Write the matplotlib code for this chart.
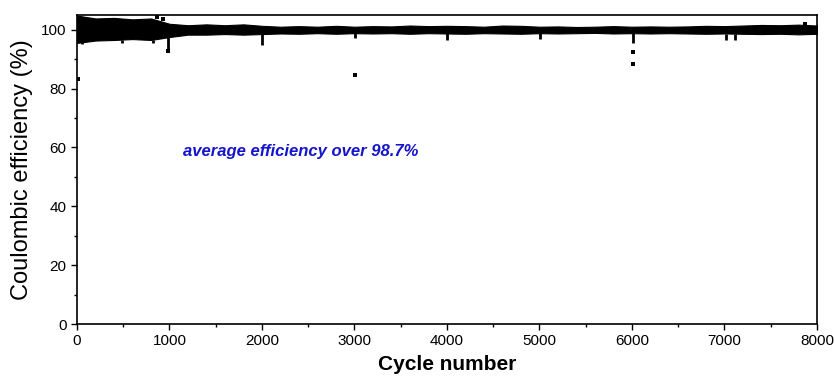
import matplotlib

matplotlib.use("Agg")
import matplotlib.pyplot as plt
import numpy as np

plt.rcParams["font.family"] = ["Liberation Sans", "DejaVu Sans"]

# band envelope of the dense scatter, read every 200 cycles
bin_cycles = list(range(0, 8001, 200))
band_hi = [104.8, 103.8, 104.0, 103.5, 103.8, 102.0, 101.5, 101.8, 101.5, 101.8,
           101.3, 101.0, 101.2, 101.0, 101.3, 101.0, 101.2, 101.1, 101.4, 101.2,
           101.3, 101.2, 101.0, 101.4, 101.3, 101.0, 101.1, 100.9, 101.0, 101.2,
           101.0, 101.1, 101.0, 101.1, 101.3, 101.2, 101.4, 101.6, 101.5, 101.7, 101.4]
band_lo = [95.5, 96.3, 96.5, 96.8, 96.5, 97.5, 98.3, 98.3, 98.5, 98.3,
           98.5, 98.7, 98.6, 98.8, 98.6, 98.8, 98.7, 98.8, 98.6, 98.8,
           98.7, 98.6, 98.8, 98.7, 98.6, 98.8, 98.7, 98.8, 98.9, 98.7,
           98.8, 98.7, 98.8, 98.7, 98.6, 98.7, 98.6, 98.5, 98.6, 98.4, 98.6]

# short dips below the band
dip_cycles = [50, 490, 820, 985, 2000, 3005, 4000, 5005, 6011, 7020, 7110]
dip_values = [95.0, 95.3, 95.3, 93.5, 94.8, 97.3, 96.6, 96.9, 95.6, 96.5, 96.6]

# isolated points
out_cycles = [10, 984, 3005, 6011, 6011, 865, 930, 7870]
out_values = [83.3, 92.9, 84.7, 92.5, 88.4, 104.4, 103.7, 102.0]


fig = plt.figure(figsize=(8.34, 3.83), dpi=100)
ax = fig.add_axes([0.0923, 0.154, 0.8873, 0.807])

ax.fill_between(bin_cycles, band_lo, band_hi, color="black", lw=0.8, edgecolor="black")
lo_at_dip = np.interp(dip_cycles, bin_cycles, band_lo)
ax.vlines(dip_cycles, dip_values, lo_at_dip, color="black", lw=2)
ax.scatter(out_cycles, out_values, marker="s", s=5, color="black", lw=0)

ax.set_xlim(0, 8000)
ax.set_ylim(0, 105)
ax.set_xticks(range(0, 8001, 1000))
ax.set_xticks(range(500, 8000, 1000), minor=True)
ax.set_yticks(range(0, 101, 20))
ax.set_yticks(range(10, 101, 20), minor=True)
ax.tick_params(which="both", direction="out", top=False, right=False, labelsize=11)
ax.tick_params(which="major", length=4, width=1)
ax.tick_params(which="minor", length=2.5, width=1)
for spine in ax.spines.values():
    spine.set_linewidth(1.2)

ax.set_xlabel("Cycle number", fontsize=15, fontweight="bold", labelpad=5)
ax.set_ylabel("Coulombic efficiency (%)", fontsize=17, labelpad=6)

ax.text(1146, 58.5, "average efficiency over 98.7%", color="#1414cc",
        fontsize=12, fontstyle="italic", fontweight="bold", va="center")

fig.savefig("out.png", dpi=100)
